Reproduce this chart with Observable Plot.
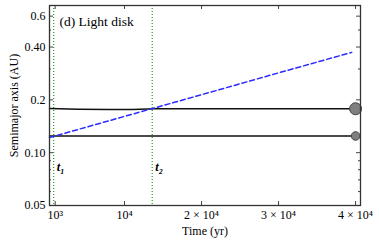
<!DOCTYPE html>
<html><head><meta charset="utf-8">
<script src="https://cdn.jsdelivr.net/npm/d3@7"></script>
<script src="https://cdn.jsdelivr.net/npm/@observablehq/plot@0.6"></script>
<style>body{margin:0;background:#fff}</style>
</head><body><div id="chart"></div>
<script>
// Data
const upperTime = [260, 4000, 8000, 11000, 14000, 40000];
const upperA    = [0.1785, 0.177, 0.1762, 0.1765, 0.178, 0.178];
const lowerTime = [260, 40000];
const lowerA    = [0.1245, 0.1245];
const diskTime  = [260, 10000, 20000, 30000, 39500];
const diskA     = [0.122, 0.161, 0.214, 0.285, 0.373];
const planetTime = [40000, 40000];
const planetA    = [0.178, 0.1245];
const planetR    = [6, 4.3];
const markerTimes = [800, 13600];
const markerLabels = ["t₁", "t₂"];
const xTicks = [1000, 10000, 20000, 30000, 40000];
const xTickLabels = ["10³", "10⁴", "2 × 10⁴", "3 × 10⁴", "4 × 10⁴"];
const yTicks = [0.05, 0.1, 0.2, 0.4, 0.6];
const yTickLabels = ["0.05", "0.10", "0.2", "0.40", "0.6"];
const yMinor = [0.06, 0.07, 0.08, 0.09, 0.3, 0.5];

const upper = upperTime.map((t,i)=>({t, a: upperA[i]}));
const lower = lowerTime.map((t,i)=>({t, a: lowerA[i]}));
const disk = diskTime.map((t,i)=>({t, a: diskA[i]}));
const planets = planetTime.map((t,i)=>({t, a: planetA[i], r: planetR[i]}));
const markers = markerTimes.map((t,i)=>({t, label: markerLabels[i]}));
const xLabelMap = new Map(xTicks.map((v,i)=>[v, xTickLabels[i]]));
const yTickData = yTicks.map((v,i)=>({v, label: yTickLabels[i]}));

const W = 379, H = 242, mL = 49, mR = 19, mT = 5, mB = 37;
const fw = W - mL - mR, fh = H - mT - mB;
const serif = "'Liberation Serif', 'DejaVu Serif', serif";

const chart = Plot.plot({
  width: W, height: H,
  marginLeft: mL, marginRight: mR, marginTop: mT, marginBottom: mB,
  style: {fontFamily: serif, fontSize: "12px", color: "#000", background: "#fff"},
  x: {domain: [260, 40640]},
  y: {type: "log", domain: [0.05, 0.69]},
  r: {type: "identity"},
  marks: [
    Plot.ruleX(markers, {x: "t", stroke: "#1f9e1f", strokeWidth: 1.2, strokeDasharray: "1,2"}),
    Plot.text(markers, {x: "t", y: 0.083, text: "label", textAnchor: "start", dx: 3,
      fontStyle: "italic", fontWeight: "bold", fontSize: 12.5, fill: "#000"}),
    Plot.line(upper, {x: "t", y: "a", stroke: "#111", strokeWidth: 1.5}),
    Plot.line(lower, {x: "t", y: "a", stroke: "#111", strokeWidth: 1.5}),
    Plot.line(disk, {x: "t", y: "a", stroke: "#2b2bff", strokeWidth: 1.5, strokeDasharray: "5,3"}),
    Plot.dot(planets, {x: "t", y: "a", r: "r", fill: "#7f7f7f", stroke: "#444", strokeWidth: 1}),
    // inward ticks
    Plot.ruleX(xTicks, {x: d => d, insetTop: fh - 4, stroke: "#444"}),
    Plot.ruleX(xTicks, {x: d => d, insetBottom: fh - 4, stroke: "#444"}),
    Plot.ruleY(yTicks, {y: d => d, insetRight: fw - 4, stroke: "#444"}),
    Plot.ruleY(yTicks, {y: d => d, insetLeft: fw - 4, stroke: "#444"}),
    Plot.ruleY(yMinor, {y: d => d, insetRight: fw - 2, stroke: "#444"}),
    Plot.ruleY(yMinor, {y: d => d, insetLeft: fw - 2, stroke: "#444"}),
    Plot.frame({stroke: "#333", strokeWidth: 1.3}),
    Plot.text(["(d) Light disk"], {frameAnchor: "top-left", text: d => d, dx: 10, dy: 11,
      textAnchor: "start", fontSize: 13.5, fill: "#000"}),
    Plot.text(yTickData, {y: "v", text: "label", frameAnchor: "left", textAnchor: "end",
      dx: -4, fontSize: 12, fill: "#000"}),
    Plot.axisX(xTicks, {tickSize: 0, tickPadding: 5, tickFormat: d => xLabelMap.get(d),
      fontSize: 12, label: "Time (yr)", labelAnchor: "center", labelOffset: 29, labelArrow: "none"}),
    Plot.axisY(yTicks, {tickSize: 0, tickFormat: () => "", label: "Semimajor axis (AU)",
      labelAnchor: "center", labelOffset: 40, labelArrow: "none", fontSize: 12})
  ]
});
document.getElementById("chart").appendChild(chart);
</script>
</body></html>
